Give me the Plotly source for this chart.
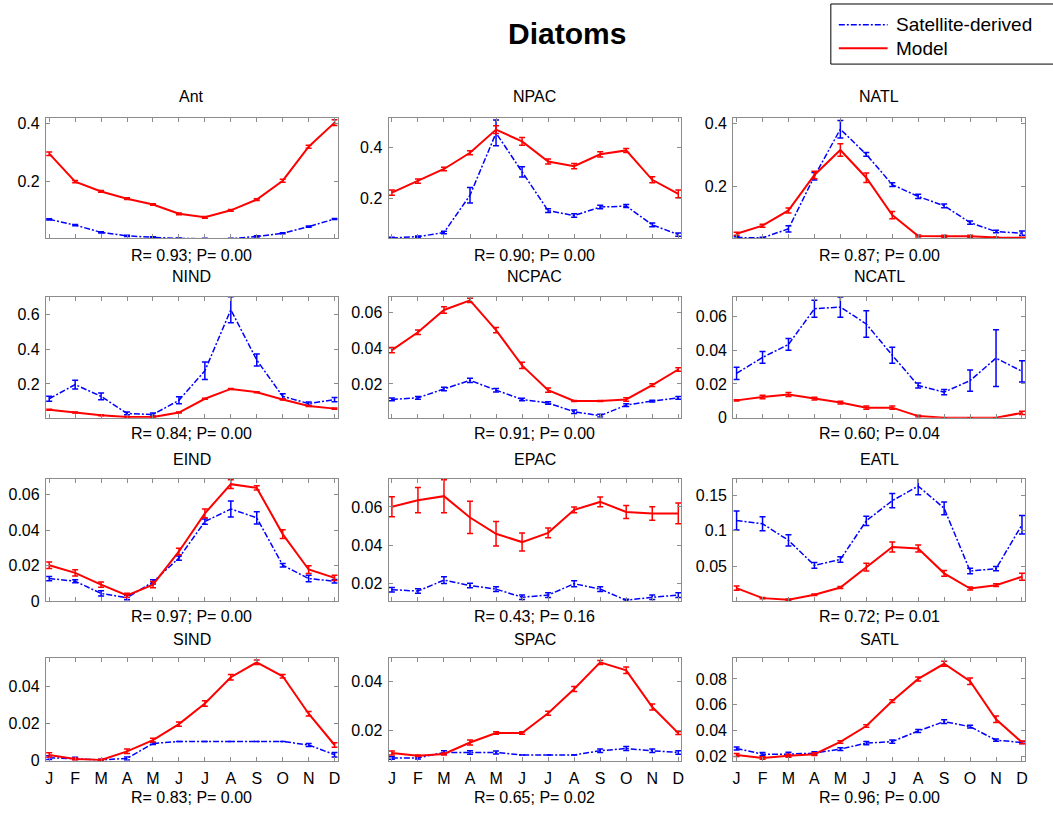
import plotly.graph_objects as go

W, H = 1053, 813

MONTHS = ["J", "F", "M", "A", "M", "J", "J", "A", "S", "O", "N", "D"]
MONTH_NUM = list(range(1, 13))

REGIONS = ["Ant", "NPAC", "NATL", "NIND", "NCPAC", "NCATL",
           "EIND", "EPAC", "EATL", "SIND", "SPAC", "SATL"]
R_VALUES = [0.93, 0.90, 0.87, 0.84, 0.91, 0.60, 0.97, 0.43, 0.72, 0.83, 0.65, 0.96]
P_VALUES = [0.00, 0.00, 0.00, 0.00, 0.00, 0.04, 0.00, 0.16, 0.01, 0.00, 0.02, 0.00]
LEGEND_LABELS = ["Satellite-derived", "Model"]

# ---- Satellite-derived (blue) and Model (red) monthly values + error half-widths ----
ANT_SAT = [0.069, 0.049, 0.024, 0.012, 0.007, 0.003, 0.002, 0.002, 0.010, 0.021, 0.044, 0.070]
ANT_SAT_ERR = [0.002] * 12
ANT_MOD = [0.295, 0.199, 0.165, 0.140, 0.120, 0.088, 0.076, 0.100, 0.137, 0.202, 0.319, 0.402]
ANT_MOD_ERR = [0.006, 0.004, 0.003, 0.003, 0.003, 0.003, 0.003, 0.003, 0.003, 0.005, 0.005, 0.010]

NPAC_SAT = [0.047, 0.052, 0.068, 0.213, 0.455, 0.304, 0.153, 0.134, 0.167, 0.171, 0.098, 0.060]
NPAC_SAT_ERR = [0.003, 0.003, 0.005, 0.030, 0.050, 0.020, 0.007, 0.007, 0.007, 0.006, 0.007, 0.006]
NPAC_MOD = [0.223, 0.268, 0.315, 0.378, 0.468, 0.422, 0.344, 0.326, 0.372, 0.387, 0.273, 0.218]
NPAC_MOD_ERR = [0.010, 0.008, 0.007, 0.008, 0.015, 0.015, 0.010, 0.010, 0.010, 0.008, 0.012, 0.015]

NATL_SAT = [0.035, 0.034, 0.063, 0.232, 0.383, 0.302, 0.205, 0.167, 0.137, 0.083, 0.054, 0.049]
NATL_SAT_ERR = [0.003, 0.002, 0.010, 0.012, 0.028, 0.006, 0.006, 0.007, 0.006, 0.005, 0.004, 0.007]
NATL_MOD = [0.047, 0.073, 0.122, 0.236, 0.316, 0.227, 0.107, 0.040, 0.039, 0.039, 0.035, 0.034]
NATL_MOD_ERR = [0.005, 0.005, 0.008, 0.012, 0.020, 0.015, 0.012, 0.003, 0.003, 0.003, 0.002, 0.002]

NIND_SAT = [0.114, 0.196, 0.128, 0.029, 0.023, 0.105, 0.276, 0.629, 0.338, 0.128, 0.086, 0.109]
NIND_SAT_ERR = [0.015, 0.025, 0.020, 0.008, 0.008, 0.020, 0.050, 0.075, 0.035, 0.015, 0.010, 0.012]
NIND_MOD = [0.051, 0.034, 0.019, 0.008, 0.008, 0.034, 0.114, 0.171, 0.152, 0.110, 0.072, 0.057]
NIND_MOD_ERR = [0.003] * 12

NCPAC_SAT = [0.0113, 0.0122, 0.0172, 0.0220, 0.0165, 0.0113, 0.0093, 0.0044, 0.0022, 0.0081, 0.0104, 0.0122]
NCPAC_SAT_ERR = [0.0008, 0.0008, 0.0010, 0.0012, 0.0010, 0.0007, 0.0007, 0.0010, 0.0008, 0.0008, 0.0005, 0.0008]
NCPAC_MOD = [0.0390, 0.0490, 0.0615, 0.0669, 0.0502, 0.0304, 0.0165, 0.0104, 0.0104, 0.0113, 0.0193, 0.0281]
NCPAC_MOD_ERR = [0.0015, 0.0012, 0.0018, 0.0012, 0.0015, 0.0018, 0.0012, 0.0003, 0.0003, 0.0010, 0.0008, 0.0010]

NCATL_SAT = [0.0263, 0.0357, 0.0434, 0.0645, 0.0655, 0.0555, 0.0370, 0.0191, 0.0152, 0.0220, 0.0353, 0.0275]
NCATL_SAT_ERR = [0.0036, 0.0035, 0.0035, 0.0050, 0.0060, 0.0078, 0.0047, 0.0015, 0.0015, 0.0063, 0.0168, 0.0063]
NCATL_MOD = [0.0103, 0.0123, 0.0138, 0.0113, 0.0090, 0.0060, 0.0060, 0.0010, 0.0000, 0.0000, 0.0000, 0.0029]
NCATL_MOD_ERR = [0.0003, 0.0010, 0.0012, 0.0008, 0.0008, 0.0010, 0.0010, 0.0005, 0.0, 0.0, 0.0, 0.0010]

EIND_SAT = [0.0127, 0.0112, 0.0043, 0.0019, 0.0108, 0.0243, 0.0449, 0.0520, 0.0470, 0.0202, 0.0127, 0.0112]
EIND_SAT_ERR = [0.0012, 0.0008, 0.0015, 0.0012, 0.0012, 0.0012, 0.0015, 0.0045, 0.0035, 0.0010, 0.0018, 0.0010]
EIND_MOD = [0.0202, 0.0159, 0.0093, 0.0032, 0.0093, 0.0280, 0.0495, 0.0660, 0.0639, 0.0378, 0.0178, 0.0131]
EIND_MOD_ERR = [0.0018, 0.0018, 0.0015, 0.0012, 0.0018, 0.0018, 0.0025, 0.0025, 0.0012, 0.0025, 0.0022, 0.0015]

EPAC_SAT = [0.0169, 0.0162, 0.0219, 0.0191, 0.0172, 0.0130, 0.0141, 0.0200, 0.0172, 0.0114, 0.0130, 0.0141]
EPAC_SAT_ERR = [0.0012, 0.0012, 0.0018, 0.0012, 0.0012, 0.0012, 0.0012, 0.0015, 0.0012, 0.0005, 0.0012, 0.0012]
EPAC_MOD = [0.0601, 0.0635, 0.0656, 0.0545, 0.0460, 0.0417, 0.0465, 0.0585, 0.0626, 0.0574, 0.0566, 0.0566]
EPAC_MOD_ERR = [0.0052, 0.0066, 0.0086, 0.0084, 0.0064, 0.0047, 0.0025, 0.0015, 0.0025, 0.0034, 0.0035, 0.0054]

EATL_SAT = [0.1144, 0.1098, 0.0865, 0.0512, 0.0595, 0.1140, 0.1423, 0.1628, 0.1316, 0.0433, 0.0465, 0.1084]
EATL_SAT_ERR = [0.0135, 0.0100, 0.0080, 0.0040, 0.0040, 0.0065, 0.0100, 0.0120, 0.0090, 0.0040, 0.0030, 0.0130]
EATL_MOD = [0.0191, 0.0051, 0.0028, 0.0098, 0.0200, 0.0488, 0.0772, 0.0749, 0.0400, 0.0186, 0.0233, 0.0353]
EATL_MOD_ERR = [0.0030, 0.0010, 0.0010, 0.0010, 0.0015, 0.0055, 0.0070, 0.0050, 0.0040, 0.0020, 0.0020, 0.0050]

SIND_SAT = [0.0016, 0.0012, 0.0004, 0.0012, 0.0092, 0.0103, 0.0103, 0.0103, 0.0103, 0.0103, 0.0084, 0.0032]
SIND_SAT_ERR = [0.0010, 0.0006, 0.0003, 0.0008, 0.0006, 0.0, 0.0, 0.0, 0.0, 0.0, 0.0008, 0.0012]
SIND_MOD = [0.0030, 0.0009, 0.0004, 0.0050, 0.0110, 0.0196, 0.0307, 0.0448, 0.0528, 0.0453, 0.0252, 0.0084]
SIND_MOD_ERR = [0.0012, 0.0005, 0.0003, 0.0012, 0.0010, 0.0012, 0.0015, 0.0015, 0.0012, 0.0010, 0.0012, 0.0012]

SPAC_SAT = [0.0091, 0.0091, 0.0113, 0.0113, 0.0113, 0.0103, 0.0103, 0.0103, 0.0120, 0.0129, 0.0120, 0.0113]
SPAC_SAT_ERR = [0.0005, 0.0004, 0.0007, 0.0007, 0.0006, 0.0, 0.0, 0.0, 0.0007, 0.0008, 0.0007, 0.0007]
SPAC_MOD = [0.0111, 0.0100, 0.0107, 0.0153, 0.0191, 0.0191, 0.0271, 0.0369, 0.0476, 0.0444, 0.0296, 0.0191]
SPAC_MOD_ERR = [0.0008, 0.0003, 0.0004, 0.0010, 0.0005, 0.0005, 0.0008, 0.0010, 0.0008, 0.0013, 0.0012, 0.0006]

SATL_SAT = [0.0264, 0.0220, 0.0220, 0.0228, 0.0259, 0.0305, 0.0317, 0.0399, 0.0471, 0.0432, 0.0328, 0.0310]
SATL_SAT_ERR = [0.0012, 0.0012, 0.0015, 0.0010, 0.0010, 0.0012, 0.0012, 0.0012, 0.0015, 0.0010, 0.0008, 0.0008]
SATL_MOD = [0.0213, 0.0190, 0.0208, 0.0220, 0.0314, 0.0437, 0.0629, 0.0800, 0.0917, 0.0783, 0.0489, 0.0311]
SATL_MOD_ERR = [0.0012, 0.0010, 0.0012, 0.0010, 0.0010, 0.0010, 0.0010, 0.0015, 0.0020, 0.0025, 0.0025, 0.0010]

SAT = [ANT_SAT, NPAC_SAT, NATL_SAT, NIND_SAT, NCPAC_SAT, NCATL_SAT,
       EIND_SAT, EPAC_SAT, EATL_SAT, SIND_SAT, SPAC_SAT, SATL_SAT]
SAT_ERR = [ANT_SAT_ERR, NPAC_SAT_ERR, NATL_SAT_ERR, NIND_SAT_ERR, NCPAC_SAT_ERR, NCATL_SAT_ERR,
           EIND_SAT_ERR, EPAC_SAT_ERR, EATL_SAT_ERR, SIND_SAT_ERR, SPAC_SAT_ERR, SATL_SAT_ERR]
MOD = [ANT_MOD, NPAC_MOD, NATL_MOD, NIND_MOD, NCPAC_MOD, NCATL_MOD,
       EIND_MOD, EPAC_MOD, EATL_MOD, SIND_MOD, SPAC_MOD, SATL_MOD]
MOD_ERR = [ANT_MOD_ERR, NPAC_MOD_ERR, NATL_MOD_ERR, NIND_MOD_ERR, NCPAC_MOD_ERR, NCATL_MOD_ERR,
           EIND_MOD_ERR, EPAC_MOD_ERR, EATL_MOD_ERR, SIND_MOD_ERR, SPAC_MOD_ERR, SATL_MOD_ERR]

# y-axis ranges and tick labels per panel
Y_RANGES = [[0.003, 0.417], [0.045, 0.512], [0.032, 0.418],
            [0.004, 0.705], [0.001, 0.069], [0.0, 0.0717],
            [0.0, 0.069], [0.011, 0.0746], [0.001, 0.173],
            [0.0, 0.055], [0.008, 0.0493], [0.017, 0.096]]
Y_TICKS = [[0.2, 0.4], [0.2, 0.4], [0.2, 0.4],
           [0.2, 0.4, 0.6], [0.02, 0.04, 0.06], [0, 0.02, 0.04, 0.06],
           [0, 0.02, 0.04, 0.06], [0.02, 0.04, 0.06], [0.05, 0.1, 0.15],
           [0, 0.02, 0.04], [0.02, 0.04], [0.02, 0.04, 0.06, 0.08]]
Y_TICKTEXT = [["0.2", "0.4"], ["0.2", "0.4"], ["0.2", "0.4"],
              ["0.2", "0.4", "0.6"], ["0.02", "0.04", "0.06"], ["0", "0.02", "0.04", "0.06"],
              ["0", "0.02", "0.04", "0.06"], ["0.02", "0.04", "0.06"], ["0.05", "0.1", "0.15"],
              ["0", "0.02", "0.04"], ["0.02", "0.04"], ["0.02", "0.04", "0.06", "0.08"]]

# ---- layout geometry (pixels) ----
COLS_PX = [(45, 338), (389, 683), (735, 1028)]
ROWS_PX = [(117, 239), (298, 421), (483, 607), (665, 769)]
TITLE_Y_PX = [95, 278, 463, 646]
STAT_Y_PX = [256, 437, 623, 806]

FONT = "Liberation Sans, Arial, sans-serif"
BLUE = "#0000ff"
RED = "#ff0000"
FRAME = "#8c8c8c"
SAT_DASH = "6px,2px,2px,2px"


def px_x(x):
    return x / W


def px_y(y):
    return 1 - y / H


fig = go.Figure()
annotations = []
shapes = []

for i, name in enumerate(REGIONS):
    r, c = divmod(i, 3)
    k = i + 1
    xa = "x" if k == 1 else f"x{k}"
    ya = "y" if k == 1 else f"y{k}"

    fig.add_trace(go.Scatter(
        x=MONTH_NUM, y=SAT[i], mode="lines", name=LEGEND_LABELS[0],
        line=dict(color=BLUE, width=1.5, dash=SAT_DASH),
        error_y=dict(type="data", array=SAT_ERR[i], color=BLUE, thickness=1.5, width=3),
        xaxis=xa, yaxis=ya, showlegend=False))
    fig.add_trace(go.Scatter(
        x=MONTH_NUM, y=MOD[i], mode="lines", name=LEGEND_LABELS[1],
        line=dict(color=RED, width=2),
        error_y=dict(type="data", array=MOD_ERR[i], color=RED, thickness=1.5, width=3),
        xaxis=xa, yaxis=ya, showlegend=False))

    x0, x1 = COLS_PX[c]
    y0, y1 = ROWS_PX[r]
    axis_common = dict(showline=True, linecolor=FRAME, linewidth=1, mirror="ticks",
                       ticks="inside", ticklen=4, tickcolor=FRAME, showgrid=False,
                       zeroline=False, tickfont=dict(family=FONT, size=16, color="black"))
    xkey = "xaxis" if k == 1 else f"xaxis{k}"
    ykey = "yaxis" if k == 1 else f"yaxis{k}"
    fig.layout[xkey] = dict(
        domain=[px_x(x0), px_x(x1)], range=[0.87, 12.12], anchor=ya,
        tickvals=MONTH_NUM, ticktext=MONTHS, showticklabels=(r == 3),
        ticklabelstandoff=3, **axis_common)
    fig.layout[ykey] = dict(
        domain=[px_y(y1), px_y(y0)], range=Y_RANGES[i], anchor=xa,
        tickvals=Y_TICKS[i], ticktext=Y_TICKTEXT[i], ticklabelstandoff=2,
        **axis_common)

    cx = (x0 + x1) / 2
    annotations.append(dict(text=name, x=px_x(cx), y=px_y(TITLE_Y_PX[r]), xref="paper", yref="paper",
                            showarrow=False, xanchor="center", yanchor="middle",
                            font=dict(family=FONT, size=16, color="black")))
    annotations.append(dict(text=f"R= {R_VALUES[i]:.2f}; P= {P_VALUES[i]:.2f}",
                            x=px_x(cx), y=px_y(STAT_Y_PX[r]), xref="paper", yref="paper",
                            showarrow=False, xanchor="center", yanchor="middle",
                            font=dict(family=FONT, size=16, color="black")))

annotations.append(dict(text="<b>Diatoms</b>", x=px_x(568), y=px_y(31), xref="paper", yref="paper",
                        showarrow=False, xanchor="center", yanchor="middle",
                        font=dict(family=FONT, size=30, color="black")))

# ---- legend box (drawn manually, top-right) ----
shapes.append(dict(type="rect", xref="paper", yref="paper",
                   x0=px_x(833), x1=px_x(1070), y0=px_y(62), y1=px_y(1),
                   line=dict(color="black", width=1), fillcolor="white", layer="above"))
LEG_Y = [22, 46]
LEG_COLORS = [BLUE, RED]
LEG_DASH = [SAT_DASH, "solid"]
LEG_WIDTH = [1.5, 2]
for j in range(2):
    shapes.append(dict(type="line", xref="paper", yref="paper",
                       x0=px_x(841), x1=px_x(890), y0=px_y(LEG_Y[j]), y1=px_y(LEG_Y[j]),
                       line=dict(color=LEG_COLORS[j], width=LEG_WIDTH[j], dash=LEG_DASH[j]),
                       layer="above"))
    annotations.append(dict(text=LEGEND_LABELS[j], x=px_x(896), y=px_y(LEG_Y[j]),
                            xref="paper", yref="paper", showarrow=False,
                            xanchor="left", yanchor="middle",
                            font=dict(family=FONT, size=19, color="black")))

fig.update_layout(
    width=W, height=H,
    margin=dict(l=0, r=0, t=0, b=0),
    paper_bgcolor="white", plot_bgcolor="white",
    annotations=annotations,
    shapes=shapes,
    showlegend=False,
)

POST = (
    "document.documentElement.style.margin='0px';"
    "document.body.style.margin='0px';"
    "document.documentElement.style.overflow='hidden';"
    "document.body.style.overflow='hidden';"
)

fig.write_html("out.html", config={"displayModeBar": False}, post_script=POST)
